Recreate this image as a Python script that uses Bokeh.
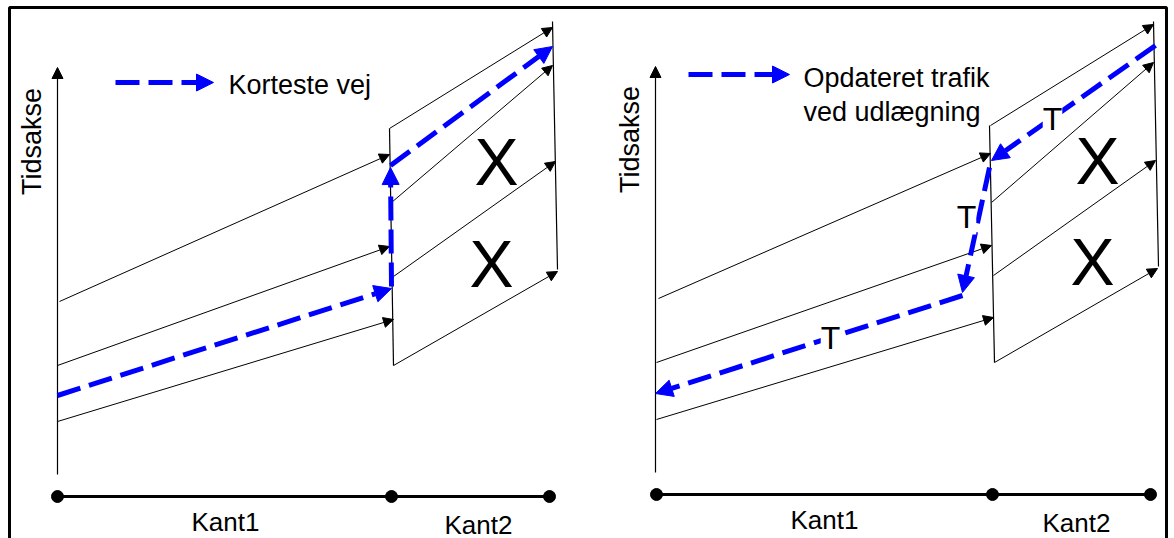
import math
from bokeh.plotting import figure
from bokeh.models import Range1d, Arrow, NormalHead, ColumnDataSource, LabelSet
from bokeh.core.properties import value
from bokeh.embed import file_html
from bokeh.resources import INLINE

# ---------------- data (page pixel coordinates of the diagram) ----------------
# time axes (one per panel)
axis_x = [57, 655]
axis_y_bottom = [474, 472]
axis_y_top = [67, 66]

# thin black flow arrows (Kant1 and Kant2 links)
flow_x0 = [59, 57, 57, 389, 391, 393, 393, 658, 656, 656, 990, 991, 993, 994]
flow_y0 = [301, 365, 421, 128, 202, 276, 365, 298, 362, 419, 125, 202, 275, 362]
flow_x1 = [389, 389, 393, 552, 552, 555, 557, 990, 991, 993, 1153, 1153, 1155, 1157]
flow_y1 = [154, 246, 319, 27, 65, 161, 271, 153, 245, 317, 24, 62, 160, 268]

# vertical node lines (end of Kant1, end of Kant2)
node_x0 = [389, 552, 989, 1153]
node_y0 = [128, 21, 125, 21]
node_x1 = [393, 557, 994, 1158]
node_y1 = [365, 269, 362, 266]

# blue dashed routes (left: shortest path, right: updated traffic, legends)
route_x0 = [57, 391, 390, 1155, 989, 962, 115, 688]
route_y0 = [395, 286, 165, 45, 167, 295, 82, 74]
route_x1 = [391, 390, 552, 991, 962, 655, 213, 789]
route_y1 = [288, 167, 46, 160, 292, 393, 82, 74]

# bottom edge bars
bar_x0 = [57, 656]
bar_x1 = [549, 1150]
bar_y = [496, 494]
dot_x = [57, 391, 549, 656, 992, 1150]
dot_y = [496, 496, 496, 494, 494, 494]

# labels
edge_labels = ["Kant1", "Kant2", "Kant1", "Kant2"]
edge_label_x = [225, 478, 824, 1076]
edge_label_y = [521, 524, 519, 522]

axis_labels = ["Tidsakse", "Tidsakse"]
axis_label_x = [31, 629]
axis_label_y = [141, 139]

legend_labels = ["Korteste vej", "Opdateret trafik", "ved udlægning"]
legend_label_x = [228, 803, 803]
legend_label_y = [84, 77, 111]

blocked_labels = ["X", "X", "X", "X"]
blocked_x = [496, 491, 1097, 1092]
blocked_y = [161, 263, 160, 261]

t_labels = ["T", "T", "T"]
t_x = [1052, 966, 830]
t_y = [118, 216, 337]

frame_x = [9, 9, 1166, 1166]
frame_y = [545, 7, 7, 545]

# ---------------- figure ----------------
W, H = 1174, 538
p = figure(width=W, height=H, x_range=Range1d(0, W), y_range=Range1d(H, 0),
           output_backend="svg", toolbar_location=None, min_border=0)
p.axis.visible = False
p.grid.visible = False
p.outline_line_color = None
p.background_fill_color = "white"
p.border_fill_color = "white"

FONT = value("Liberation Sans")

# frame
p.line(frame_x, frame_y, line_color="black", line_width=3)

# time axes with arrow heads
p.add_layout(Arrow(source=ColumnDataSource(dict(x0=axis_x, y0=axis_y_bottom, x1=axis_x, y1=axis_y_top)),
                   x_start="x0", y_start="y0", x_end="x1", y_end="y1",
                   line_color="black", line_width=1.2,
                   end=NormalHead(size=11, fill_color="black", line_color="black", line_width=1)))

# node lines
p.segment(node_x0, node_y0, node_x1, node_y1, line_color="black", line_width=1.2)

# thin flow arrows
p.add_layout(Arrow(source=ColumnDataSource(dict(x0=flow_x0, y0=flow_y0, x1=flow_x1, y1=flow_y1)),
                   x_start="x0", y_start="y0", x_end="x1", y_end="y1",
                   line_color="black", line_width=1,
                   end=NormalHead(size=10, fill_color="black", line_color="black", line_width=1)))

# blue dashed routes
p.add_layout(Arrow(source=ColumnDataSource(dict(x0=route_x0, y0=route_y0, x1=route_x1, y1=route_y1)),
                   x_start="x0", y_start="y0", x_end="x1", y_end="y1",
                   line_color="#0000FF", line_width=5, line_dash="24 9",
                   end=NormalHead(size=17, fill_color="#0000FF", line_color="#0000FF", line_width=1)))

# bottom edge bars
p.segment(bar_x0, bar_y, bar_x1, bar_y, line_color="black", line_width=3)
p.scatter(dot_x, dot_y, size=12, fill_color="black", line_color="black")

# texts
p.text(edge_label_x, edge_label_y, text=edge_labels, text_font=FONT, text_font_size="26px",
       text_align="center", text_baseline="middle", text_color="black")
p.text(axis_label_x, axis_label_y, text=axis_labels, text_font=FONT, text_font_size="27px",
       text_align="center", text_baseline="middle", angle=math.pi / 2, text_color="black")
p.text(legend_label_x, legend_label_y, text=legend_labels, text_font=FONT, text_font_size="27px",
       text_align="left", text_baseline="middle", text_color="black")
p.text(blocked_x, blocked_y, text=blocked_labels, text_font=FONT, text_font_size="66px",
       text_align="center", text_baseline="middle", text_color="black")

# "T" markers drawn above the blue route, on a white patch
p.add_layout(LabelSet(source=ColumnDataSource(dict(x=t_x, y=t_y, t=t_labels)),
                      x="x", y="y", text="t", text_font=FONT, text_font_size="32px",
                      text_align="center", text_baseline="middle", text_color="black",
                      background_fill_color="white"))

open("out.html", "w").write(file_html(p, INLINE))
